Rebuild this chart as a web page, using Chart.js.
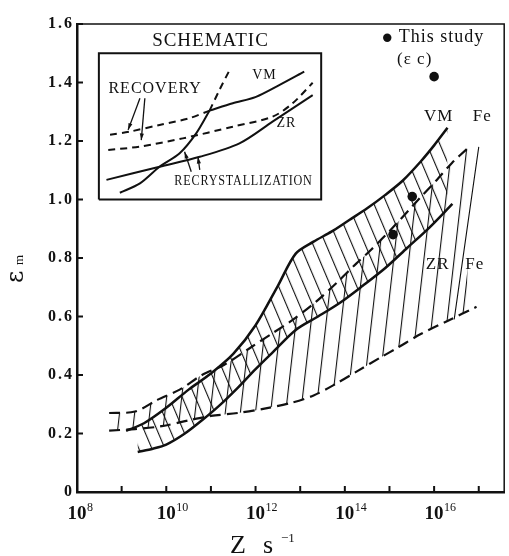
<!DOCTYPE html>
<html>
<head>
<meta charset="utf-8">
<script src="https://cdn.jsdelivr.net/npm/chart.js@4/dist/chart.umd.min.js"></script>
<style>
  html, body { margin: 0; padding: 0; background: #fff; }
  canvas { display: block; }
</style>
</head>
<body>
<canvas id="chart" width="509" height="556"></canvas>
<script>
// Данные: x хранится как log10(Z), y — деформация
const vmUpperLogZ = [9.10, 9.50, 10.0, 10.5, 11.0, 11.5, 12.0, 12.5, 12.9, 13.3, 13.7, 14.1, 14.5, 14.9, 15.3, 15.7, 16.0, 16.3];
const vmUpperEps  = [0.209, 0.235, 0.288, 0.350, 0.405, 0.472, 0.570, 0.705, 0.815, 0.856, 0.890, 0.930, 0.970, 1.015, 1.065, 1.130, 1.185, 1.245];

const vmLowerLogZ = [9.36, 9.70, 10.0, 10.4, 10.8, 11.2, 11.6, 12.0, 12.4, 12.9, 13.4, 13.9, 14.4, 14.9, 15.4, 15.9, 16.41];
const vmLowerEps  = [0.137, 0.148, 0.162, 0.198, 0.245, 0.297, 0.356, 0.420, 0.480, 0.554, 0.600, 0.648, 0.705, 0.765, 0.835, 0.905, 0.985];

const zrUpperLogZ = [8.72, 9.30, 9.80, 10.30, 10.80, 11.30, 11.90, 12.40, 12.80, 13.35, 13.85, 14.25, 14.60, 15.05, 15.65, 16.05, 16.40, 16.75];
const zrUpperEps  = [0.270, 0.275, 0.315, 0.350, 0.400, 0.435, 0.495, 0.545, 0.585, 0.650, 0.720, 0.780, 0.830, 0.900, 1.000, 1.065, 1.125, 1.175];

const zrLowerLogZ = [8.72, 9.30, 9.90, 10.50, 11.00, 11.60, 12.20, 12.80, 13.30, 13.80, 14.30, 14.80, 15.20, 15.70, 16.30, 16.95];
const zrLowerEps  = [0.210, 0.215, 0.225, 0.245, 0.260, 0.270, 0.285, 0.305, 0.330, 0.370, 0.415, 0.460, 0.495, 0.540, 0.585, 0.633];

const feEdgeLogZ = [16.45, 17.00];
const feEdgeEps  = [0.590, 1.180];

// This study (εc)
const studyLogZ = [15.08, 15.51, 16.00];
const studyEps  = [0.880, 1.010, 1.420];

// Схема во врезке (в тех же осях)
const insetBoxLogZ = [8.49, 8.49, 13.47, 13.47, 8.49];
const insetBoxEps  = [1.0, 1.5, 1.5, 1.0, 1.0];
const insetVmRecLogZ = [8.74, 9.18, 9.85, 10.52, 10.97];
const insetVmRecEps  = [1.221, 1.232, 1.255, 1.278, 1.304];
const insetVmLogZ = [10.97, 11.49, 12.01, 12.53, 13.09];
const insetVmEps  = [1.304, 1.329, 1.351, 1.391, 1.437];
const insetZrRecLogZ = [8.70, 9.41, 10.37, 11.49, 12.38, 12.83, 13.28];
const insetZrRecEps  = [1.169, 1.181, 1.209, 1.249, 1.283, 1.329, 1.399];
const insetZrLogZ = [8.66, 9.85, 10.75, 11.64, 12.38, 13.28];
const insetZrEps  = [1.067, 1.112, 1.146, 1.192, 1.266, 1.357];
const insetRxLogZ = [8.96, 9.41, 9.85, 10.30, 10.67, 10.97];
const insetRxEps  = [1.023, 1.055, 1.112, 1.158, 1.226, 1.304];
const insetRxDashLogZ = [10.97, 11.19, 11.42];
const insetRxDashEps  = [1.304, 1.374, 1.443];

// Оси
const xMinExp = 8, xMaxExp = 17.57;
const xTickExps = [8, 9, 10, 11, 12, 13, 14, 15, 16, 17];
const xLabelExps = [8, 10, 12, 14, 16];
const yTicks = [0, 0.2, 0.4, 0.6, 0.8, 1.0, 1.2, 1.4, 1.6];

const INK = '#111';
const SERIF = '"Liberation Serif", "DejaVu Serif", serif';

function toPoints(logs, vals) {
    return logs.map((l, i) => ({ x: Math.pow(10, l), y: vals[i] }));
}

// Штриховка через паттерн
function makeHatch(spacing, angle, width) {
    const tile = document.createElement('canvas');
    tile.width = spacing;
    tile.height = spacing;
    const c = tile.getContext('2d');
    c.fillStyle = INK;
    c.fillRect(0, 0, width, spacing);
    const p = c.createPattern(tile, 'repeat');
    p.setTransform(new DOMMatrix().rotate(angle));
    return p;
}

const vmHatch = makeHatch(12, -23, 1.1);
const zrHatch = makeHatch(15, 6.5, 1.1);

function line(label, logs, vals, extra) {
    return Object.assign({
        label,
        data: toPoints(logs, vals),
        borderColor: INK,
        borderWidth: 2.2,
        pointRadius: 0,
        fill: false,
        tension: 0.3
    }, extra || {});
}

const DASH = [11, 6];

const datasets = [
    line('VM upper', vmUpperLogZ, vmUpperEps, { fill: '+1', backgroundColor: vmHatch, borderWidth: 2.5 }),
    line('VM lower', vmLowerLogZ, vmLowerEps, { borderWidth: 2.5 }),
    line('ZR upper', zrUpperLogZ, zrUpperEps, { fill: '+1', backgroundColor: zrHatch, borderDash: DASH }),
    line('ZR lower', zrLowerLogZ, zrLowerEps, { borderDash: DASH }),
    line('Fe edge', feEdgeLogZ, feEdgeEps, { borderWidth: 1.1 }),
    line('box', insetBoxLogZ, insetBoxEps, { borderWidth: 2, tension: 0 }),
    line('VM recovery', insetVmRecLogZ, insetVmRecEps, { borderDash: [7, 5], borderWidth: 2 }),
    line('VM inset', insetVmLogZ, insetVmEps, { borderWidth: 2 }),
    line('ZR recovery', insetZrRecLogZ, insetZrRecEps, { borderDash: [7, 5], borderWidth: 2 }),
    line('ZR inset', insetZrLogZ, insetZrEps, { borderWidth: 2 }),
    line('Rx', insetRxLogZ, insetRxEps, { borderWidth: 2 }),
    line('Rx dashed', insetRxDashLogZ, insetRxDashEps, { borderDash: [7, 5], borderWidth: 2 }),
    {
        label: 'This study',
        data: toPoints(studyLogZ, studyEps),
        showLine: false,
        pointRadius: 4.8,
        pointBackgroundColor: INK,
        pointBorderColor: INK,
        pointBorderWidth: 0
    }
];

// Подписи, рамка, засечки
const decor = {
    id: 'decor',
    beforeDraw(chart) {
        chart.ctx.letterSpacing = '2px';
    },
    afterDraw(chart) {
        const ctx = chart.ctx;
        const xs = chart.scales.x, ys = chart.scales.y;
        const a = chart.chartArea;
        const px = l => xs.getPixelForValue(Math.pow(10, l));
        const py = v => ys.getPixelForValue(v);

        ctx.save();
        ctx.letterSpacing = '0px';
        ctx.strokeStyle = INK;
        ctx.fillStyle = INK;

        // верх и правая сторона рамки
        ctx.lineWidth = 1.5;
        ctx.beginPath();
        ctx.moveTo(a.left, a.top);
        ctx.lineTo(a.right, a.top);
        ctx.lineTo(a.right, a.bottom);
        ctx.stroke();

        // засечки внутрь
        ctx.lineWidth = 2;
        ctx.beginPath();
        xTickExps.forEach(e => {
            if (e === xMinExp) return;
            ctx.moveTo(px(e), a.bottom);
            ctx.lineTo(px(e), a.bottom - 6);
        });
        yTicks.forEach(v => {
            if (v === 0) return;
            ctx.moveTo(a.left, py(v));
            ctx.lineTo(a.left + 6, py(v));
        });
        ctx.stroke();

        // подписи оси X: 10 с показателем
        ctx.textBaseline = 'alphabetic';
        xLabelExps.forEach(e => {
            const cx = px(e);
            ctx.font = 'bold 19px ' + SERIF;
            ctx.textAlign = 'center';
            ctx.fillText('10', cx, a.bottom + 27);
            ctx.font = '12px ' + SERIF;
            ctx.textAlign = 'left';
            ctx.fillText(String(e), cx + 10, a.bottom + 19);
        });

        // название оси X
        ctx.font = '26px ' + SERIF;
        ctx.textAlign = 'left';
        ctx.fillText('Z', 230, 553);
        ctx.fillText('s', 263, 553);
        ctx.font = '13px ' + SERIF;
        ctx.fillText('\u22121', 281, 542);

        // название оси Y
        ctx.save();
        ctx.translate(23, 283);
        ctx.rotate(-Math.PI / 2);
        ctx.font = '24px "DejaVu Serif", serif';
        ctx.fillText('\u03b5', 0, 0);
        ctx.font = '13px ' + SERIF;
        ctx.fillText('m', 18, 0);
        ctx.restore();

        // текстовые метки
        const labels = [
            ['SCHEMATIC', 10.99, 1.542, 19, 1],
            ['RECOVERY', 9.75, 1.378, 16, 1],
            ['VM', 12.2, 1.426, 14, 1],
            ['ZR', 12.69, 1.262, 14, 1],
            ['RECRYSTALLIZATION', 11.73, 1.063, 15, 0.81],
            ['VM', 16.1, 1.282, 17, 1],
            ['Fe', 17.08, 1.282, 17, 1],
            ['ZR', 16.08, 0.779, 17, 1],
            ['Fe', 16.91, 0.779, 17, 1]
        ];
        ctx.textAlign = 'center';
        ctx.textBaseline = 'middle';
        labels.forEach(([t, l, v, size, sx]) => {
            ctx.save();
            ctx.translate(px(l), py(v));
            ctx.scale(sx, 1);
            ctx.font = size + 'px ' + SERIF;
            ctx.letterSpacing = '1px';
            ctx.fillText(t, 0, 0);
            ctx.restore();
        });

        // стрелки во врезке
        const arrows = [
            [9.41, 1.346, 9.145, 1.238],
            [9.52, 1.346, 9.44, 1.203],
            [10.56, 1.095, 10.41, 1.163],
            [10.75, 1.101, 10.71, 1.146]
        ];
        ctx.lineWidth = 1.3;
        arrows.forEach(([l1, v1, l2, v2]) => {
            const x1 = px(l1), y1 = py(v1), x2 = px(l2), y2 = py(v2);
            const ang = Math.atan2(y2 - y1, x2 - x1);
            ctx.beginPath();
            ctx.moveTo(x1, y1);
            ctx.lineTo(x2, y2);
            ctx.stroke();
            ctx.beginPath();
            ctx.moveTo(x2, y2);
            ctx.lineTo(x2 - 7 * Math.cos(ang - 0.3), y2 - 7 * Math.sin(ang - 0.3));
            ctx.lineTo(x2 - 7 * Math.cos(ang + 0.3), y2 - 7 * Math.sin(ang + 0.3));
            ctx.closePath();
            ctx.fill();
        });

        // легенда
        ctx.beginPath();
        ctx.arc(px(14.95), py(1.553), 4.2, 0, Math.PI * 2);
        ctx.fill();
        ctx.textAlign = 'left';
        ctx.font = '18px ' + SERIF;
        ctx.letterSpacing = '1px';
        ctx.fillText('This study', px(15.21), py(1.553));
        ctx.font = '17px ' + SERIF;
        ctx.fillText('(\u03b5 c)', px(15.17), py(1.480));

        ctx.restore();
    }
};

new Chart(document.getElementById('chart').getContext('2d'), {
    type: 'line',
    data: { datasets },
    options: {
        responsive: false,
        animation: false,
        devicePixelRatio: 1,
        events: [],
        layout: { padding: { top: 24, right: 3, bottom: 0, left: 0 } },
        plugins: {
            legend: { display: false },
            tooltip: { enabled: false }
        },
        scales: {
            x: {
                type: 'logarithmic',
                min: Math.pow(10, xMinExp),
                max: Math.pow(10, xMaxExp),
                ticks: { display: false },
                grid: { display: false, drawTicks: false },
                border: { display: true, width: 2.5, color: INK },
                afterFit(s) { s.height = 64; }
            },
            y: {
                type: 'linear',
                min: 0,
                max: 1.6,
                afterBuildTicks(s) { s.ticks = yTicks.map(v => ({ value: v })); },
                ticks: {
                    color: INK,
                    padding: 3,
                    font: { family: SERIF, size: 16, weight: 'bold' },
                    callback: v => v === 0 ? '0' : v.toFixed(1)
                },
                grid: { display: false, drawTicks: false },
                border: { display: true, width: 2.5, color: INK },
                afterFit(s) { s.width = 77; }
            }
        }
    },
    plugins: [decor]
});
</script>
</body>
</html>
